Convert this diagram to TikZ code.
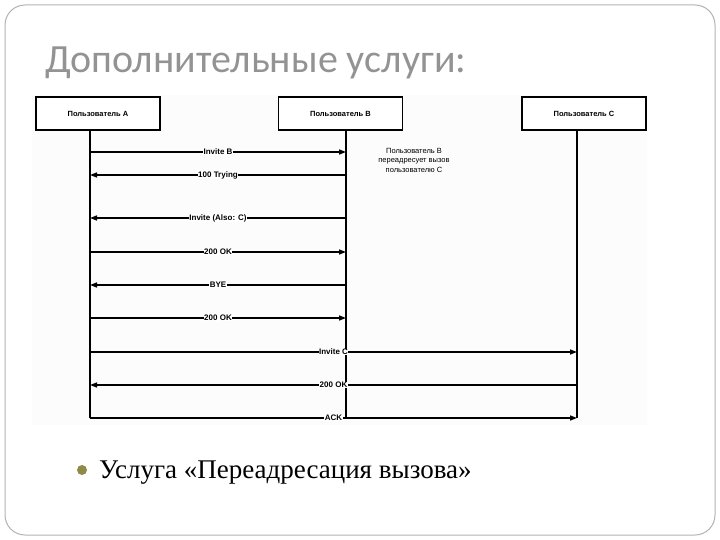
\documentclass[tikz,border=0pt]{standalone}
\usepackage{fontspec}
\setmainfont{Liberation Serif}
\newfontfamily\dsans{Liberation Sans}
\newfontfamily\tfont{Carlito}
\usetikzlibrary{arrows.meta}
\begin{document}
\begin{tikzpicture}[x=1pt,y=-1pt,
  actor/.style={draw,line width=1.3pt,minimum width=124pt,minimum height=33pt,font=\dsans\fontsize{7.5}{8}\selectfont\bfseries,fill=white},
  life/.style={line width=1.3pt},
  msg/.style={line width=1.3pt,-{Triangle[length=7pt,width=5pt]}},
  lbl/.style={fill=white,inner sep=0.5pt,font=\dsans\fontsize{8}{9}\selectfont\bfseries}]
\useasboundingbox (0,0) rectangle (720,540);
\draw[gray!60,line width=1pt,rounded corners=20pt] (5,5) rectangle (715,535);
\node[anchor=base west,font=\tfont\fontsize{40}{42}\selectfont,text=gray!85,inner sep=0] (title) at (45,73) {Дополнительные услуги:};
\fill[gray!2] (32,95) rectangle (647,425);
\node[actor] (A) at (98,113.5) {Пользователь А};
\node[actor] (B) at (340.5,113.5) {Пользователь В};
\node[actor] (C) at (584,113.5) {Пользователь С};
\coordinate (a0) at (90,130); \coordinate (a1) at (90,418);
\coordinate (b0) at (346,130); \coordinate (b1) at (346,418);
\coordinate (c0) at (577,130); \coordinate (c1) at (577,418);
\draw[life] (a0)--(a1); \draw[life] (b0)--(b1); \draw[life] (c0)--(c1);
\foreach \y/\f/\t/\l [count=\i] in {152/90/346/Invite B,175/346/90/100 Trying,218/346/90/Invite (Also: C),252/90/346/200 OK,285/346/90/BYE,318/90/346/200 OK}{
  \coordinate (s\i) at (\f,\y); \coordinate (e\i) at (\t,\y);
  \draw[msg] (s\i) -- node[lbl] {\l} (e\i);}
\coordinate (s7) at (90,352); \coordinate (e7) at (577,352);
\draw[msg] (s7) -- node[lbl,pos=0.5] {Invite C} (e7);
\coordinate (s8) at (577,385); \coordinate (e8) at (90,385);
\draw[msg] (s8) -- node[lbl] {200 OK} (e8);
\coordinate (s9) at (90,418); \coordinate (e9) at (577,418);
\draw[msg] (s9) -- node[lbl] {ACK} (e9);
\node[font=\dsans\fontsize{7.5}{9.5}\selectfont,align=center] (note) at (414,160) {Пользователь В\\переадресует вызов\\пользователю С};
\fill[olive!50!gray] (82,470) circle (5pt);
\node[anchor=base west,font=\fontsize{27}{29}\selectfont,inner sep=0] (bul) at (99,478) {Услуга «Переадресация вызова»};
\end{tikzpicture}
\end{document}
